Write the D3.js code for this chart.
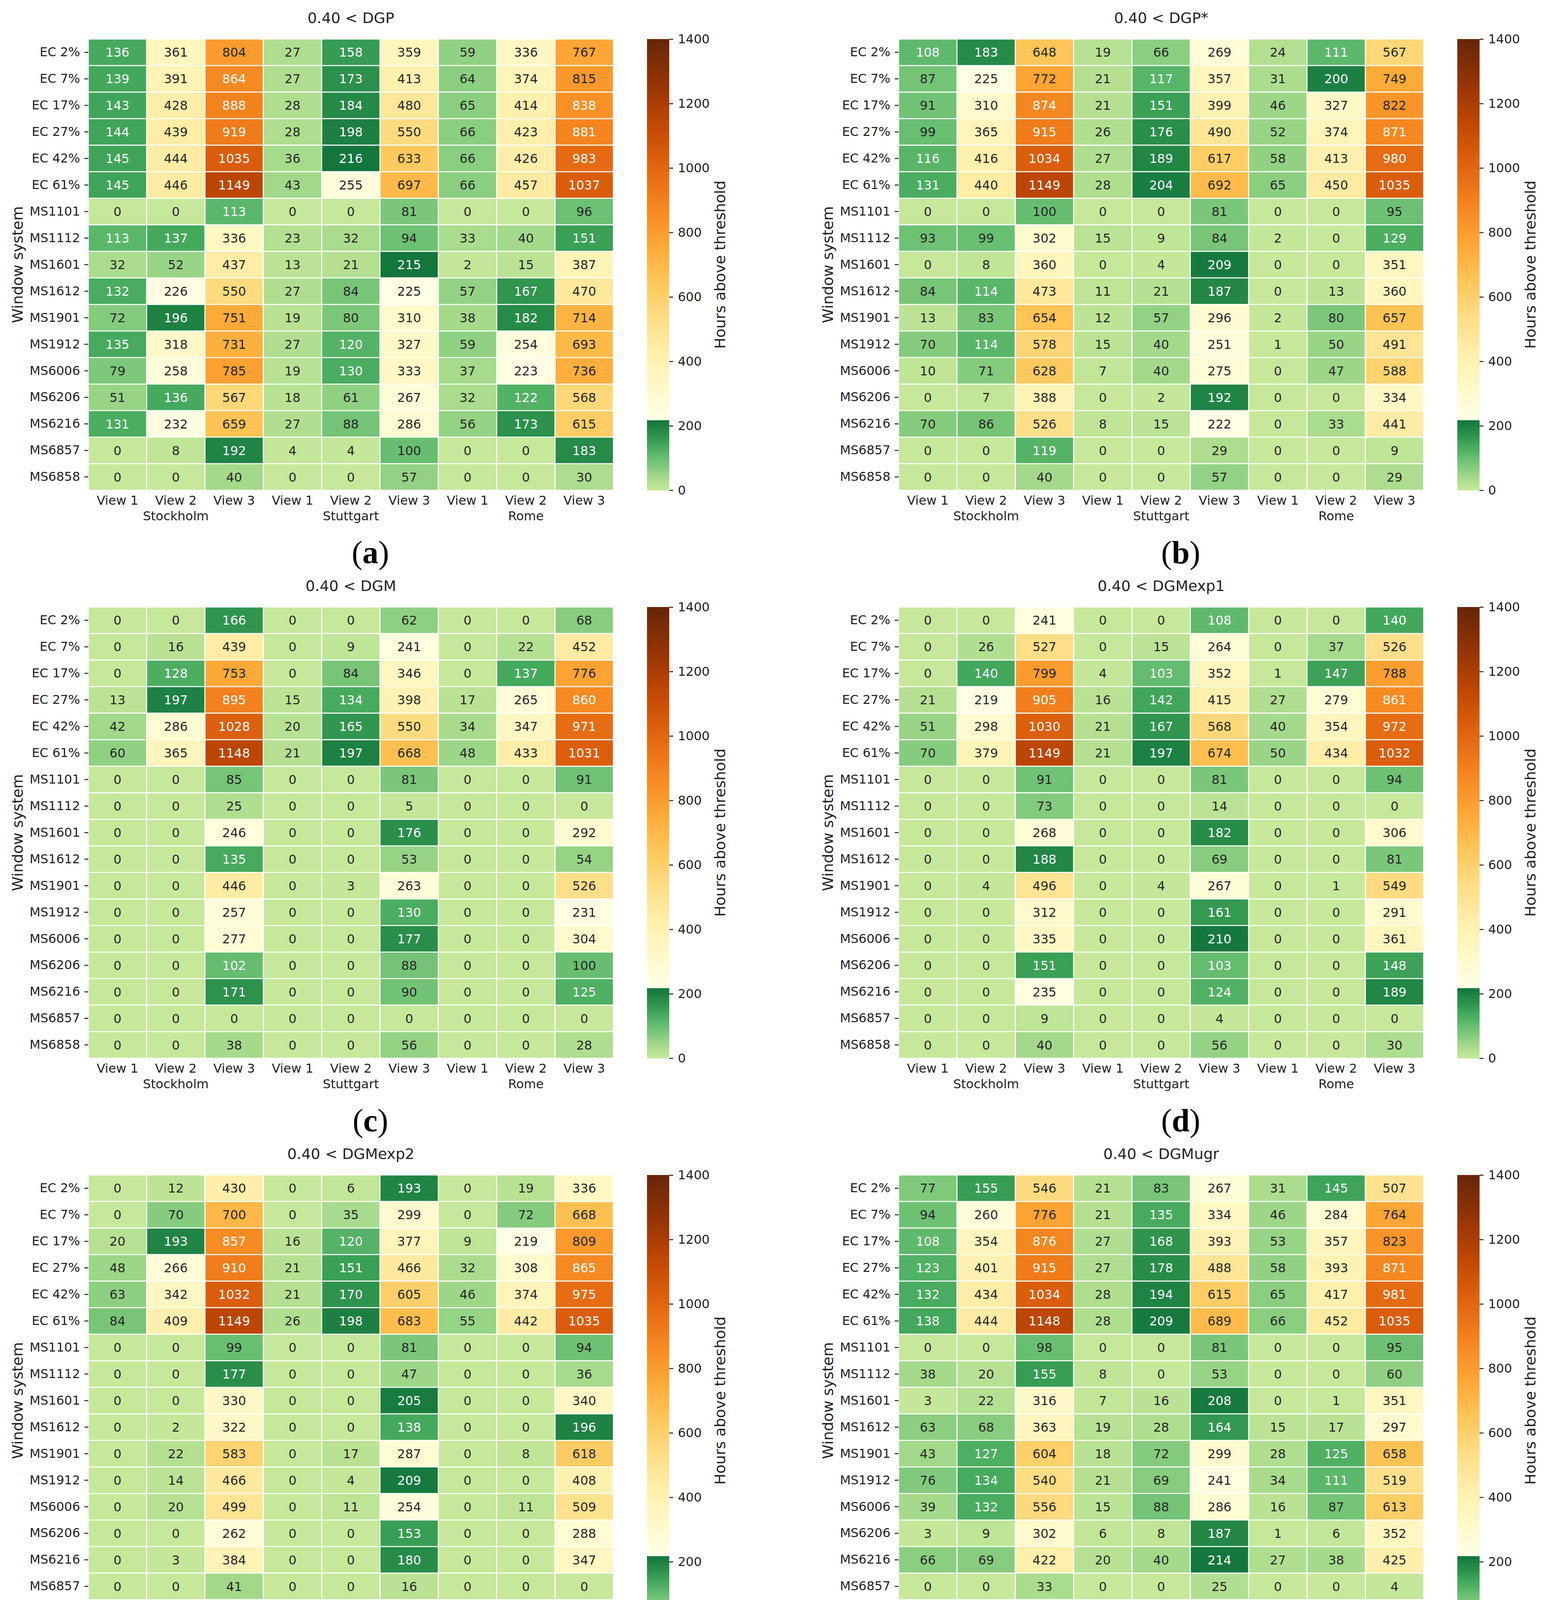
<!doctype html>
<html lang="en">
<head>
<meta charset="UTF-8">
<title>Hours above threshold</title>
<script src="https://d3js.org/d3.v7.min.js"></script>
<style>
  body { margin: 0; background: #fff; }
  svg { display: block; }
</style>
</head>
<body>
<script>
  var rowLabels = ["EC 2%", "EC 7%", "EC 17%", "EC 27%", "EC 42%", "EC 61%",
    "MS1101", "MS1112", "MS1601", "MS1612", "MS1901", "MS1912",
    "MS6006", "MS6206", "MS6216", "MS6857", "MS6858"];
  var viewLabels = ["View 1", "View 2", "View 3", "View 1", "View 2", "View 3", "View 1", "View 2", "View 3"];
  var cityLabels = ["", "Stockholm", "", "", "Stuttgart", "", "", "Rome", ""];
  var panelTitles = ["0.40 < DGP", "0.40 < DGP*", "0.40 < DGM", "0.40 < DGMexp1", "0.40 < DGMexp2", "0.40 < DGMugr"];
  var panelLetters = ["a", "b", "c", "d", "e", "f"];
  var cbTicks = [0, 200, 400, 600, 800, 1000, 1200, 1400];

  var dgp = [
    [136, 361, 804, 27, 158, 359, 59, 336, 767],
    [139, 391, 864, 27, 173, 413, 64, 374, 815],
    [143, 428, 888, 28, 184, 480, 65, 414, 838],
    [144, 439, 919, 28, 198, 550, 66, 423, 881],
    [145, 444, 1035, 36, 216, 633, 66, 426, 983],
    [145, 446, 1149, 43, 255, 697, 66, 457, 1037],
    [0, 0, 113, 0, 0, 81, 0, 0, 96],
    [113, 137, 336, 23, 32, 94, 33, 40, 151],
    [32, 52, 437, 13, 21, 215, 2, 15, 387],
    [132, 226, 550, 27, 84, 225, 57, 167, 470],
    [72, 196, 751, 19, 80, 310, 38, 182, 714],
    [135, 318, 731, 27, 120, 327, 59, 254, 693],
    [79, 258, 785, 19, 130, 333, 37, 223, 736],
    [51, 136, 567, 18, 61, 267, 32, 122, 568],
    [131, 232, 659, 27, 88, 286, 56, 173, 615],
    [0, 8, 192, 4, 4, 100, 0, 0, 183],
    [0, 0, 40, 0, 0, 57, 0, 0, 30]
  ];
  var dgpStar = [
    [108, 183, 648, 19, 66, 269, 24, 111, 567],
    [87, 225, 772, 21, 117, 357, 31, 200, 749],
    [91, 310, 874, 21, 151, 399, 46, 327, 822],
    [99, 365, 915, 26, 176, 490, 52, 374, 871],
    [116, 416, 1034, 27, 189, 617, 58, 413, 980],
    [131, 440, 1149, 28, 204, 692, 65, 450, 1035],
    [0, 0, 100, 0, 0, 81, 0, 0, 95],
    [93, 99, 302, 15, 9, 84, 2, 0, 129],
    [0, 8, 360, 0, 4, 209, 0, 0, 351],
    [84, 114, 473, 11, 21, 187, 0, 13, 360],
    [13, 83, 654, 12, 57, 296, 2, 80, 657],
    [70, 114, 578, 15, 40, 251, 1, 50, 491],
    [10, 71, 628, 7, 40, 275, 0, 47, 588],
    [0, 7, 388, 0, 2, 192, 0, 0, 334],
    [70, 86, 526, 8, 15, 222, 0, 33, 441],
    [0, 0, 119, 0, 0, 29, 0, 0, 9],
    [0, 0, 40, 0, 0, 57, 0, 0, 29]
  ];
  var dgm = [
    [0, 0, 166, 0, 0, 62, 0, 0, 68],
    [0, 16, 439, 0, 9, 241, 0, 22, 452],
    [0, 128, 753, 0, 84, 346, 0, 137, 776],
    [13, 197, 895, 15, 134, 398, 17, 265, 860],
    [42, 286, 1028, 20, 165, 550, 34, 347, 971],
    [60, 365, 1148, 21, 197, 668, 48, 433, 1031],
    [0, 0, 85, 0, 0, 81, 0, 0, 91],
    [0, 0, 25, 0, 0, 5, 0, 0, 0],
    [0, 0, 246, 0, 0, 176, 0, 0, 292],
    [0, 0, 135, 0, 0, 53, 0, 0, 54],
    [0, 0, 446, 0, 3, 263, 0, 0, 526],
    [0, 0, 257, 0, 0, 130, 0, 0, 231],
    [0, 0, 277, 0, 0, 177, 0, 0, 304],
    [0, 0, 102, 0, 0, 88, 0, 0, 100],
    [0, 0, 171, 0, 0, 90, 0, 0, 125],
    [0, 0, 0, 0, 0, 0, 0, 0, 0],
    [0, 0, 38, 0, 0, 56, 0, 0, 28]
  ];
  var dgmExp1 = [
    [0, 0, 241, 0, 0, 108, 0, 0, 140],
    [0, 26, 527, 0, 15, 264, 0, 37, 526],
    [0, 140, 799, 4, 103, 352, 1, 147, 788],
    [21, 219, 905, 16, 142, 415, 27, 279, 861],
    [51, 298, 1030, 21, 167, 568, 40, 354, 972],
    [70, 379, 1149, 21, 197, 674, 50, 434, 1032],
    [0, 0, 91, 0, 0, 81, 0, 0, 94],
    [0, 0, 73, 0, 0, 14, 0, 0, 0],
    [0, 0, 268, 0, 0, 182, 0, 0, 306],
    [0, 0, 188, 0, 0, 69, 0, 0, 81],
    [0, 4, 496, 0, 4, 267, 0, 1, 549],
    [0, 0, 312, 0, 0, 161, 0, 0, 291],
    [0, 0, 335, 0, 0, 210, 0, 0, 361],
    [0, 0, 151, 0, 0, 103, 0, 0, 148],
    [0, 0, 235, 0, 0, 124, 0, 0, 189],
    [0, 0, 9, 0, 0, 4, 0, 0, 0],
    [0, 0, 40, 0, 0, 56, 0, 0, 30]
  ];
  var dgmExp2 = [
    [0, 12, 430, 0, 6, 193, 0, 19, 336],
    [0, 70, 700, 0, 35, 299, 0, 72, 668],
    [20, 193, 857, 16, 120, 377, 9, 219, 809],
    [48, 266, 910, 21, 151, 466, 32, 308, 865],
    [63, 342, 1032, 21, 170, 605, 46, 374, 975],
    [84, 409, 1149, 26, 198, 683, 55, 442, 1035],
    [0, 0, 99, 0, 0, 81, 0, 0, 94],
    [0, 0, 177, 0, 0, 47, 0, 0, 36],
    [0, 0, 330, 0, 0, 205, 0, 0, 340],
    [0, 2, 322, 0, 0, 138, 0, 0, 196],
    [0, 22, 583, 0, 17, 287, 0, 8, 618],
    [0, 14, 466, 0, 4, 209, 0, 0, 408],
    [0, 20, 499, 0, 11, 254, 0, 11, 509],
    [0, 0, 262, 0, 0, 153, 0, 0, 288],
    [0, 3, 384, 0, 0, 180, 0, 0, 347],
    [0, 0, 41, 0, 0, 16, 0, 0, 0],
    [0, 0, 40, 0, 0, 57, 0, 0, 30]
  ];
  var dgmUgr = [
    [77, 155, 546, 21, 83, 267, 31, 145, 507],
    [94, 260, 776, 21, 135, 334, 46, 284, 764],
    [108, 354, 876, 27, 168, 393, 53, 357, 823],
    [123, 401, 915, 27, 178, 488, 58, 393, 871],
    [132, 434, 1034, 28, 194, 615, 65, 417, 981],
    [138, 444, 1148, 28, 209, 689, 66, 452, 1035],
    [0, 0, 98, 0, 0, 81, 0, 0, 95],
    [38, 20, 155, 8, 0, 53, 0, 0, 60],
    [3, 22, 316, 7, 16, 208, 0, 1, 351],
    [63, 68, 363, 19, 28, 164, 15, 17, 297],
    [43, 127, 604, 18, 72, 299, 28, 125, 658],
    [76, 134, 540, 21, 69, 241, 34, 111, 519],
    [39, 132, 556, 15, 88, 286, 16, 87, 613],
    [3, 9, 302, 6, 8, 187, 1, 6, 352],
    [66, 69, 422, 20, 40, 214, 27, 38, 425],
    [0, 0, 33, 0, 0, 25, 0, 0, 4],
    [0, 0, 40, 0, 0, 57, 0, 0, 30]
  ];
  var panelValues = [dgp, dgpStar, dgm, dgmExp1, dgmExp2, dgmUgr];

  var width = 3957, height = 4390;
  var mapW = 1344, mapH = 1155;
  var colX = [226, 2300];
  var rowY = [100, 1554, 3008];
  var font = "DejaVu Sans";
  var ink = "#222";

  // green part below the split, YlOrBr above it (same split as the colour bar)
  var split = 218.75, vmax = 1400;
  var greenT = d3.scaleLinear().domain([0, split]).range([0.3, 0.82]);
  var orangeT = d3.scaleLinear().domain([split, vmax]).range([0, 1]).clamp(true);
  function colorOf(v) {
    return v < split ? d3.interpolateYlGn(greenT(v)) : d3.interpolateYlOrBr(orangeT(v));
  }
  function lin(c) {
    c = c / 255;
    return c <= 0.03928 ? c / 12.92 : Math.pow((c + 0.055) / 1.055, 2.4);
  }
  function textColor(col) {
    var c = d3.rgb(col);
    var lum = 0.2126 * lin(c.r) + 0.7152 * lin(c.g) + 0.0722 * lin(c.b);
    return lum > 0.408 ? "#262626" : "#ffffff";
  }

  var svg = d3.select("body")
      .append("svg")
      .attr("width", width)
      .attr("height", height);
  svg.append("rect").attr("width", width).attr("height", height).attr("fill", "#fff");

  var x = d3.scaleBand().domain(d3.range(9)).range([0, mapW]);
  var y = d3.scaleBand().domain(rowLabels).range([0, mapH]);
  var cb = d3.scaleLinear().domain([0, vmax]).range([mapH, 0]);

  panelValues.forEach(function(values, p) {
    var g = svg.append("g")
        .attr("transform", "translate(" + colX[p % 2] + "," + rowY[Math.floor(p / 2)] + ")");

    var cells = [];
    values.forEach(function(row, i) {
      row.forEach(function(v, j) {
        cells.push({row: rowLabels[i], col: j, v: v});
      });
    });

    // cells
    g.append("g").selectAll("rect")
        .data(cells)
        .join("rect")
        .attr("x", function(d) { return x(d.col); })
        .attr("y", function(d) { return y(d.row); })
        .attr("width", x.bandwidth())
        .attr("height", y.bandwidth())
        .attr("fill", function(d) { return colorOf(d.v); })
        .attr("stroke", "#fff")
        .attr("stroke-width", 2.5);

    // annotations
    g.append("g").selectAll("text")
        .data(cells)
        .join("text")
        .attr("x", function(d) { return x(d.col) + x.bandwidth() / 2; })
        .attr("y", function(d) { return y(d.row) + y.bandwidth() / 2; })
        .attr("dy", "0.36em")
        .attr("text-anchor", "middle")
        .attr("font-family", font)
        .attr("font-size", 32)
        .attr("fill", function(d) { return textColor(colorOf(d.v)); })
        .text(function(d) { return d.v; });

    // y axis
    var yAxis = g.append("g")
        .call(d3.axisLeft(y).tickSize(10).tickPadding(11));
    yAxis.select(".domain").remove();
    yAxis.selectAll("line").attr("stroke", ink).attr("stroke-width", 2.5);
    yAxis.selectAll("text")
        .attr("font-family", font)
        .attr("font-size", 32)
        .attr("fill", ink);

    // x labels (two lines: view / city)
    g.append("g").selectAll("text")
        .data(viewLabels)
        .join("text")
        .attr("x", function(d, i) { return x(i) + x.bandwidth() / 2; })
        .attr("y", mapH + 37)
        .attr("text-anchor", "middle")
        .attr("font-family", font)
        .attr("font-size", 32)
        .attr("fill", ink)
        .text(function(d) { return d; });
    g.append("g").selectAll("text")
        .data(cityLabels)
        .join("text")
        .attr("x", function(d, i) { return x(i) + x.bandwidth() / 2; })
        .attr("y", mapH + 77)
        .attr("text-anchor", "middle")
        .attr("font-family", font)
        .attr("font-size", 32)
        .attr("fill", ink)
        .text(function(d) { return d; });

    // title
    g.append("text")
        .attr("x", mapW / 2)
        .attr("y", -41)
        .attr("text-anchor", "middle")
        .attr("font-family", font)
        .attr("font-size", 38)
        .attr("fill", ink)
        .text(panelTitles[p]);

    // y axis title
    g.append("text")
        .attr("transform", "translate(-168," + (mapH / 2) + ") rotate(-90)")
        .attr("text-anchor", "middle")
        .attr("font-family", font)
        .attr("font-size", 38)
        .attr("fill", ink)
        .text("Window system");

    // colour bar
    var cbG = g.append("g").attr("transform", "translate(" + (mapW + 86) + ",0)");
    cbG.append("g").selectAll("rect")
        .data(d3.range(0, vmax, 2))
        .join("rect")
        .attr("x", 0)
        .attr("y", function(d) { return cb(d + 2); })
        .attr("width", 57)
        .attr("height", function(d) { return cb(d) - cb(d + 2) + 0.6; })
        .attr("fill", function(d) { return colorOf(d + 1); });
    var cbAxis = cbG.append("g")
        .attr("transform", "translate(57,0)")
        .call(d3.axisRight(cb).tickValues(cbTicks).tickSize(10).tickPadding(12).tickFormat(d3.format("d")));
    cbAxis.select(".domain").remove();
    cbAxis.selectAll("line").attr("stroke", ink).attr("stroke-width", 2.5);
    cbAxis.selectAll("text")
        .attr("font-family", font)
        .attr("font-size", 32)
        .attr("fill", ink);
    cbG.append("text")
        .attr("transform", "translate(200," + (mapH / 2) + ") rotate(-90)")
        .attr("text-anchor", "middle")
        .attr("font-family", font)
        .attr("font-size", 38)
        .attr("fill", ink)
        .text("Hours above threshold");

    // panel letter
    var lab = g.append("text")
        .attr("x", 722)
        .attr("y", mapH + 187)
        .attr("text-anchor", "middle")
        .attr("font-family", "Liberation Serif")
        .attr("font-size", 82)
        .attr("fill", "#000");
    lab.append("tspan").text("(");
    lab.append("tspan").attr("font-weight", "bold").text(panelLetters[p]);
    lab.append("tspan").text(")");
  });
</script>
</body>
</html>
